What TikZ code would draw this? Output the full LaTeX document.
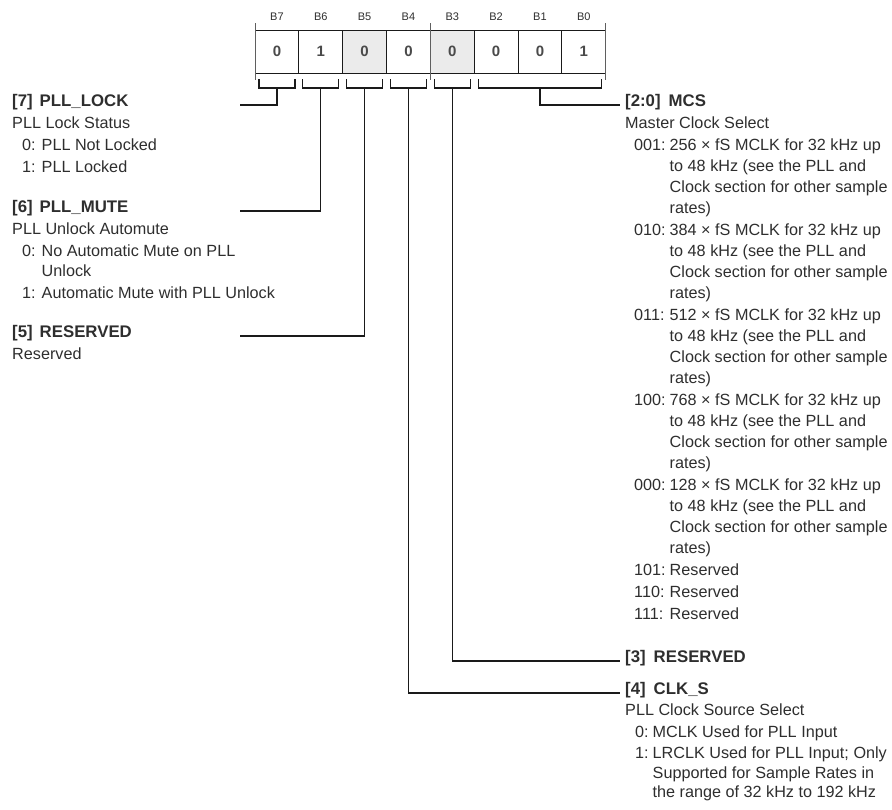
\documentclass[tikz,border=0pt]{standalone}
\usepackage{fontspec}
\setmainfont{Liberation Sans}
\usepackage{array}
\definecolor{txt}{HTML}{2E2E2E}
\definecolor{ln}{HTML}{1A1A1A}
\definecolor{shade}{HTML}{EBEBEB}
\definecolor{val}{HTML}{4A4A4A}
\newcommand{\hdfont}{\fontsize{16.8}{21}\selectfont\bfseries}
\newcommand{\fhd}[1]{\multicolumn{2}{@{}l@{}}{\hdfont #1}}
\newcommand{\fln}[1]{\multicolumn{2}{@{}l@{}}{#1}}
\begin{document}
\begin{tikzpicture}[x=1pt,y=-1pt,
  cell/.style={draw=ln,line width=1pt,minimum width=43.84pt,minimum height=43pt,inner sep=0pt,fill=white,font=\fontsize{15}{16}\selectfont\bfseries,text=val},
  shaded/.style={cell,fill=shade},
  blabel/.style={font=\fontsize{11}{12}\selectfont,text=txt,inner sep=0pt},
  tick/.style={draw=ln!70,line width=0.7pt},
  brk/.style={draw=ln,line width=1.2pt},
  conn/.style={draw=ln,line width=1.2pt},
  field/.style={anchor=base west,inner sep=0pt,text=txt,font=\fontsize{16.2}{21}\selectfont}]
\useasboundingbox (0,0) rectangle (892,809);

% register cells
\node[cell]   (c7) at (276.92,51.5) {0};
\node[cell]   (c6) at (320.76,51.5) {1};
\node[shaded] (c5) at (364.60,51.5) {0};
\node[cell]   (c4) at (408.44,51.5) {0};
\node[shaded] (c3) at (452.28,51.5) {0};
\node[cell]   (c2) at (496.12,51.5) {0};
\node[cell]   (c1) at (539.96,51.5) {0};
\node[cell]   (c0) at (583.80,51.5) {1};

% bit labels
\node[blabel] (b7) at (276.92,17) {B7};
\node[blabel] (b6) at (320.76,17) {B6};
\node[blabel] (b5) at (364.60,17) {B5};
\node[blabel] (b4) at (408.44,17) {B4};
\node[blabel] (b3) at (452.28,17) {B3};
\node[blabel] (b2) at (496.12,17) {B2};
\node[blabel] (b1) at (539.96,17) {B1};
\node[blabel] (b0) at (583.80,17) {B0};

% ticks
\draw[tick] (255,23) -- (255,80);
\draw[tick] (430.36,23) -- (430.36,80);
\draw[tick] (605.72,23) -- (605.72,80);

% brackets
\draw[brk] (259,79) |- (295,88) -- (295,79);
\draw[brk] (302.8,79) |- (338.8,88) -- (338.8,79);
\draw[brk] (346.6,79) |- (382.6,88) -- (382.6,79);
\draw[brk] (390.4,79) |- (426.4,88) -- (426.4,79);
\draw[brk] (434.3,79) |- (470.3,88) -- (470.3,79);
\draw[brk] (478.1,79) |- (601.7,88) -- (601.7,79);

% stems and ends
\coordinate (s7) at (c7.south |- 0,88);
\coordinate (s6) at (c6.south |- 0,88);
\coordinate (s5) at (c5.south |- 0,88);
\coordinate (s4) at (c4.south |- 0,88);
\coordinate (s3) at (c3.south |- 0,88);
\coordinate (s20) at (c1.south |- 0,88);
\coordinate (e7) at (240,105);
\coordinate (e6) at (240,211);
\coordinate (e5) at (240,336);
\coordinate (e20) at (620,105);
\coordinate (e3) at (620,661);
\coordinate (e4) at (620,693);

% left fields
\node[field] (f7) at (12,106) {\begin{tabular}[t]{@{\hspace{10pt}}l@{\hspace{6pt}}l@{}}
\fhd{[7]\hspace{7pt}PLL\_LOCK}\\[1pt]
\fln{PLL Lock Status}\\[1pt]
0: & PLL Not Locked\\[1pt]
1: & PLL Locked
\end{tabular}};

\node[field] (f6) at (12,212) {\begin{tabular}[t]{@{\hspace{10pt}}l@{\hspace{6pt}}l@{}}
\fhd{[6]\hspace{7pt}PLL\_MUTE}\\[1pt]
\fln{PLL Unlock Automute}\\[1pt]
0: & No Automatic Mute on PLL\\[-1pt]
 & Unlock\\[1pt]
1: & Automatic Mute with PLL Unlock
\end{tabular}};

\node[field] (f5) at (12,337) {\begin{tabular}[t]{@{}l@{}}
{\hdfont [5]\hspace{7pt}RESERVED}\\[1pt]
Reserved
\end{tabular}};

% right fields
\node[field] (f20) at (625,106) {\begin{tabular}[t]{@{\hspace{9pt}}l@{\hspace{4pt}}l@{}}
\fhd{[2:0]\hspace{8pt}MCS}\\[1pt]
\fln{Master Clock Select}\\[1pt]
001: & 256 × fS MCLK for 32 kHz up\\
 & to 48 kHz (see the PLL and\\
 & Clock section for other sample\\
 & rates)\\[1pt]
010: & 384 × fS MCLK for 32 kHz up\\
 & to 48 kHz (see the PLL and\\
 & Clock section for other sample\\
 & rates)\\[1pt]
011: & 512 × fS MCLK for 32 kHz up\\
 & to 48 kHz (see the PLL and\\
 & Clock section for other sample\\
 & rates)\\[1pt]
100: & 768 × fS MCLK for 32 kHz up\\
 & to 48 kHz (see the PLL and\\
 & Clock section for other sample\\
 & rates)\\[1pt]
000: & 128 × fS MCLK for 32 kHz up\\
 & to 48 kHz (see the PLL and\\
 & Clock section for other sample\\
 & rates)\\[1pt]
101: & Reserved\\[1pt]
110: & Reserved\\[1pt]
111: & Reserved
\end{tabular}};

\node[field] (f3) at (625,662) {\hdfont [3]\hspace{8pt}RESERVED};

\node[field] (f4) at (625,694) {\begin{tabular}[t]{@{\hspace{10pt}}l@{\hspace{4pt}}l@{}}
\fhd{[4]\hspace{8pt}CLK\_S}\\[0.5pt]
\fln{PLL Clock Source Select}\\[0.5pt]
0: & MCLK Used for PLL Input\\[0.5pt]
1: & LRCLK Used for PLL Input; Only\\[-1.5pt]
 & Supported for Sample Rates in\\[-1.5pt]
 & the range of 32 kHz to 192 kHz
\end{tabular}};

% connectors
\draw[conn] (s7) |- (e7);
\draw[conn] (s6) |- (e6);
\draw[conn] (s5) |- (e5);
\draw[conn] (s4) |- (e4);
\draw[conn] (s3) |- (e3);
\draw[conn] (s20) |- (e20);
\end{tikzpicture}
\end{document}
